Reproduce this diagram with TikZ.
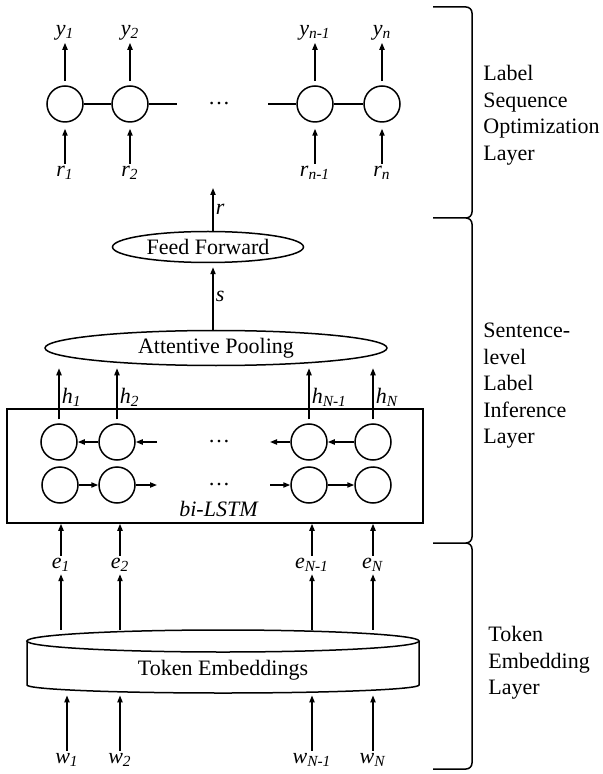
\documentclass[tikz,border=0pt]{standalone}
\usepackage{fontspec}
\setmainfont{Liberation Serif}
\usetikzlibrary{arrows.meta,positioning,shapes.geometric}
\tikzset{
  every node/.style={font=\fontsize{11}{13.25}\selectfont},
  cell/.style={circle, draw, line width=0.75pt, minimum size=18pt, inner sep=0pt},
  oval/.style={ellipse, draw, line width=0.75pt, inner sep=0pt},
  arr/.style={-{Triangle[length=3.5pt,width=2.6pt]}, line width=0.75pt},
  link/.style={line width=0.75pt},
  lab/.style={inner sep=1pt},
  layername/.style={align=left, anchor=west, inner sep=0pt},
  brace/.style={line width=0.75pt},
}
\newcommand{\tok}[2]{\textit{#1}\textsubscript{\textit{#2}}}

\begin{document}
\begin{tikzpicture}[x=0.5pt, y=-0.5pt]
  \useasboundingbox (0,0) rectangle (602,774);

  % ---- label sequence optimization --------------------------------------
  \node[cell] (c1) at (65,104) {};
  \node[cell] (c2) at (130,104) {};
  \node[cell] (c3) at (315,104) {};
  \node[cell] (c4) at (382,104) {};
  \node (cdots) at (219,104) {\dots};
  \coordinate (c2r) at (177,104);
  \coordinate (c3l) at (268,104);
  \draw[link] (c1) -- (c2);
  \draw[link] (c2) -- (c2r);
  \draw[link] (c3l) -- (c3);
  \draw[link] (c3) -- (c4);

  \node[lab] (y1) at (65,33) {\tok{y}{1}};
  \node[lab] (y2) at (130,33) {\tok{y}{2}};
  \node[lab] (y3) at (315,33) {\tok{y}{n-1}};
  \node[lab] (y4) at (382,33) {\tok{y}{n}};
  \node[lab] (r1) at (65,173) {\tok{r}{1}};
  \node[lab] (r2) at (130,173) {\tok{r}{2}};
  \node[lab] (r3) at (315,173) {\tok{r}{n-1}};
  \node[lab] (r4) at (382,173) {\tok{r}{n}};

  \draw[arr, shorten <=2pt] (c1) -- (y1);
  \draw[arr, shorten <=2pt] (c2) -- (y2);
  \draw[arr, shorten <=2pt] (c3) -- (y3);
  \draw[arr, shorten <=2pt] (c4) -- (y4);
  \draw[arr, shorten >=3pt] (r1) -- (c1);
  \draw[arr, shorten >=3pt] (r2) -- (c2);
  \draw[arr, shorten >=3pt] (r3) -- (c3);
  \draw[arr, shorten >=3pt] (r4) -- (c4);

  % ---- sentence-level label inference -----------------------------------
  \node[oval, minimum width=95.5pt, minimum height=15.5pt] (ff) at (208,247) {Feed Forward};
  \node[oval, minimum width=171pt, minimum height=17.5pt] (ap) at (216,348) {Attentive Pooling};
  \coordinate (rtop) at (213,188);
  \draw[arr] (ff.north -| rtop) -- node[right, lab] {\textit{r}} (rtop);
  \draw[arr, shorten >=2pt] (ap.north -| rtop) -- node[right, lab] {\textit{s}} (ff.south -| rtop);

  \node[draw, line width=0.75pt, minimum width=208pt, minimum height=57pt, inner sep=0pt] (lstm) at (215,466) {};
  \node[lab] (bilstm) at (219,509) {\textit{bi-LSTM}};

  \node[cell] (b1) at (59,442) {};
  \node[cell] (b2) at (117,442) {};
  \node[cell] (b3) at (309,442) {};
  \node[cell] (b4) at (373,442) {};
  \node[cell] (f1) at (60,485) {};
  \node[cell] (f2) at (117,485) {};
  \node[cell] (f3) at (309,485) {};
  \node[cell] (f4) at (373,485) {};
  \node (bdots) at (219,442) {\dots};
  \node (fdots) at (219,485) {\dots};

  % backward
  \coordinate (bin) at (157,442);
  \coordinate (bout) at (270,442);
  \draw[arr] (b2) -- (b1);
  \draw[arr] (bin) -- (b2);
  \draw[arr] (b3) -- (bout);
  \draw[arr] (b4) -- (b3);
  % forward
  \coordinate (fout) at (157,485);
  \coordinate (fin) at (270,485);
  \draw[arr] (f1) -- (f2);
  \draw[arr] (f2) -- (fout);
  \draw[arr] (fin) -- (f3);
  \draw[arr] (f3) -- (f4);

  \draw[arr, shorten <=2pt, shorten >=1pt] (b1) -- node[right, lab, pos=0.45] {\tok{h}{1}} (b1 |- ap.south);
  \draw[arr, shorten <=2pt, shorten >=1pt] (b2) -- node[right, lab, pos=0.45] {\tok{h}{2}} (b2 |- ap.south);
  \draw[arr, shorten <=2pt, shorten >=1pt] (b3) -- node[right, lab, pos=0.45] {\tok{h}{N-1}} (b3 |- ap.south);
  \draw[arr, shorten <=2pt, shorten >=1pt] (b4) -- node[right, lab, pos=0.45] {\tok{h}{N}} (b4 |- ap.south);

  % ---- token embedding --------------------------------------------------
  \node[lab] (e1) at (61,565) {\tok{e}{1}};
  \node[lab] (e2) at (120,565) {\tok{e}{2}};
  \node[lab] (e3) at (312,565) {\tok{e}{N-1}};
  \node[lab] (e4) at (373,565) {\tok{e}{N}};
  \draw[arr] (e1) -- (e1 |- lstm.south);
  \draw[arr] (e2) -- (e2 |- lstm.south);
  \draw[arr] (e3) -- (e3 |- lstm.south);
  \draw[arr] (e4) -- (e4 |- lstm.south);

  \node[minimum width=196pt, minimum height=31.5pt, inner sep=0pt] (emb) at (223,661.5) {};
  \draw[link] (223,641) ellipse [x radius=98pt, y radius=5.5pt];
  \draw[link] (27,641) -- (27,685) arc[start angle=180, end angle=360, x radius=98pt, y radius=4pt] -- (419,641);
  \node (embtxt) at (223,670) {Token Embeddings};

  \draw[arr] (e1 |- emb.north) -- (e1);
  \draw[arr] (e2 |- emb.north) -- (e2);
  \draw[arr] (e3 |- emb.north) -- (e3);
  \draw[arr] (e4 |- emb.north) -- (e4);

  \node[lab] (w1) at (67,760) {\tok{w}{1}};
  \node[lab] (w2) at (120,760) {\tok{w}{2}};
  \node[lab] (w3) at (312,760) {\tok{w}{N-1}};
  \node[lab] (w4) at (373,760) {\tok{w}{N}};
  \draw[arr, shorten >=1pt] (w1) -- (w1 |- emb.south);
  \draw[arr, shorten >=1pt] (w2) -- (w2 |- emb.south);
  \draw[arr, shorten >=1pt] (w3) -- (w3 |- emb.south);
  \draw[arr, shorten >=1pt] (w4) -- (w4 |- emb.south);

  % ---- layer braces -----------------------------------------------------
  \draw[brace] (433,7) -- (466,7) to[out=0, in=90] (472,13) -- (472,212) to[out=-90, in=0] (466,218) -- (433,218);
  \draw[brace] (466,218) to[out=0, in=90] (472,224) -- (472,537) to[out=-90, in=0] (466,543) -- (433,543);
  \draw[brace] (466,543) to[out=0, in=90] (472,549) -- (472,763) to[out=-90, in=0] (466,769) -- (433,769);

  \node[layername] (lso) at (483,115) {Label\\Sequence\\Optimization\\Layer};
  \node[layername] (sli) at (483,386) {Sentence-\\level\\Label\\Inference\\Layer};
  \node[layername] (tel) at (488,663) {Token\\Embedding\\Layer};
\end{tikzpicture}
\end{document}
